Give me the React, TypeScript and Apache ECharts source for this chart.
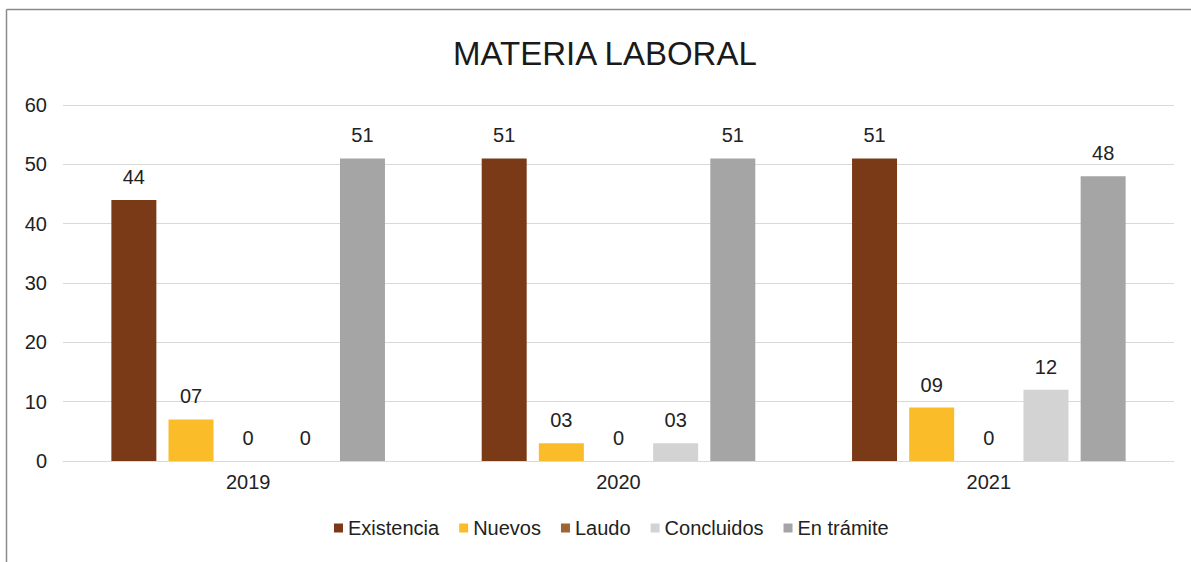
import React, { useEffect, useRef } from "react";
import * as echarts from "echarts";

const categories = ["2019", "2020", "2021"];
const seriesNames = ["Existencia", "Nuevos", "Laudo", "Concluidos", "En trámite"];
const existencia = [44, 51, 51];
const nuevos = [7, 3, 9];
const laudo = [0, 0, 0];
const concluidos = [0, 3, 12];
const enTramite = [51, 51, 48];
const existenciaLabels = ["44", "51", "51"];
const nuevosLabels = ["07", "03", "09"];
const laudoLabels = ["0", "0", "0"];
const concluidosLabels = ["0", "03", "12"];
const enTramiteLabels = ["51", "51", "48"];
const colors = ["#7B3A17", "#FBBC2A", "#9E6533", "#D3D3D3", "#A5A5A5"];

export default function App() {
  const ref = useRef<HTMLDivElement>(null);
  useEffect(() => {
    document.body.style.margin = "0";
    const chart = echarts.init(ref.current!, null, { renderer: "svg" });
    const values = [existencia, nuevos, laudo, concluidos, enTramite];
    const labels = [existenciaLabels, nuevosLabels, laudoLabels, concluidosLabels, enTramiteLabels];
    const font = "Liberation Sans, Arial, sans-serif";
    chart.setOption({
      animation: false,
      backgroundColor: "#ffffff",
      title: {
        text: "MATERIA LABORAL",
        left: 448,
        top: 32,
        textStyle: { fontFamily: font, fontSize: 33, fontWeight: "normal", color: "#1a1a1a" },
      },
      legend: {
        bottom: 19,
        left: 329,
        itemWidth: 9,
        itemHeight: 9,
        itemGap: 20,
        icon: "rect",
        textStyle: { fontFamily: font, fontSize: 20, color: "#222" },
        data: seriesNames,
      },
      grid: { left: 63, right: 17, top: 105, bottom: 101, containLabel: false },
      xAxis: {
        type: "category",
        data: categories,
        axisLine: { lineStyle: { color: "#D9D9D9", width: 1 } },
        axisTick: { show: false },
        axisLabel: { fontFamily: font, fontSize: 20, color: "#222", margin: 11 },
      },
      yAxis: {
        type: "value",
        min: 0,
        max: 60,
        interval: 10,
        axisLine: { show: false },
        axisTick: { show: false },
        splitLine: { lineStyle: { color: "#D9D9D9", width: 1 } },
        axisLabel: { fontFamily: font, fontSize: 20, color: "#222", margin: 16 },
      },
      graphic: [
        { type: "line", shape: { x1: 6.5, y1: 9.5, x2: 1191, y2: 9.5 }, style: { stroke: "#8a8a8a", lineWidth: 1.5 } },
        { type: "line", shape: { x1: 6.5, y1: 9.5, x2: 6.5, y2: 562 }, style: { stroke: "#8a8a8a", lineWidth: 1.5 } },
      ],
      series: seriesNames.map((name, i) => ({
        name,
        type: "bar",
        data: values[i],
        barWidth: 45,
        barGap: "27%",
        itemStyle: { color: colors[i] },
        label: {
          show: true,
          position: "top",
          distance: 13,
          fontFamily: font,
          fontSize: 20,
          color: "#222",
          formatter: (p: any) => labels[i][p.dataIndex],
        },
      })),
    });
    return () => chart.dispose();
  }, []);
  return <div ref={ref} style={{ width: 1191, height: 562 }} />;
}
